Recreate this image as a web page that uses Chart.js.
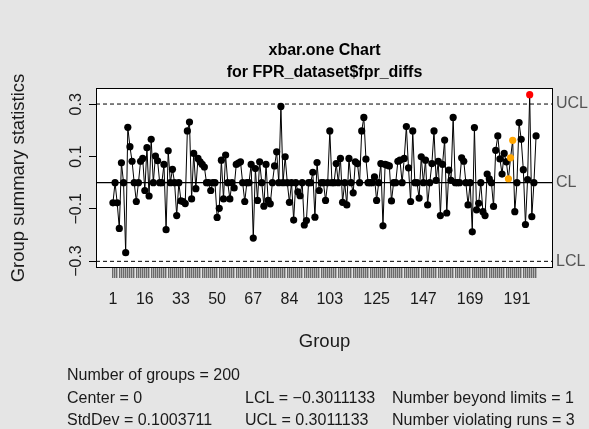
<!DOCTYPE html>
<html>
<head>
<meta charset="utf-8">
<script src="https://cdn.jsdelivr.net/npm/chart.js@4.4.1/dist/chart.umd.min.js"></script>
<style>
  html, body { margin: 0; padding: 0; background: #e5e5e5; }
  #wrap { width: 589px; height: 429px; }
</style>
</head>
<body>
<div id="wrap"><canvas id="qccChart" width="589" height="429"></canvas></div>
<script>
// group numbers and the individual fpr differences
const groups = Array.from({ length: 200 }, (_, i) => i + 1);
const fprDiffs = [
  -0.077, 0, -0.077, -0.175, 0.076, 0, -0.268, 0.212, 0.138, 0.082,
  0, -0.072, 0, 0.082, 0.093, -0.03, 0.134, -0.051, 0.166, 0,
  0.102, 0.084, 0, 0, 0.07, -0.18, 0.122, 0, 0.051, 0,
  -0.126, 0, -0.07, -0.072, -0.08, 0.198, 0.232, -0.062, 0.112, -0.023,
  0.093, 0.08, 0.07, 0.06, 0, 0, -0.03, 0, 0, -0.133,
  -0.098, 0.086, -0.062, 0.106, 0, -0.062, 0, -0.02, 0.07, 0.075,
  0.08, 0, -0.072, 0, 0, 0.07, -0.212, 0.054, -0.068, 0.08,
  0, -0.09, 0.07, -0.068, -0.081, 0, 0.064, 0.118, 0, 0.292,
  0, 0.099, 0, -0.075, 0, -0.143, 0, -0.035, -0.05, 0,
  -0.162, -0.145, 0, 0, 0.04, -0.132, 0.077, -0.03, 0, 0,
  -0.068, 0, 0.198, 0, 0, 0.073, 0, 0.093, -0.075, 0,
  -0.085, 0.093, 0, -0.039, 0.08, 0.073, 0, 0.198, 0.25, 0.09,
  0, 0, 0, 0.022, -0.068, 0, 0.073, -0.165, 0.07, 0.067,
  0.064, -0.07, 0, 0, 0.082, 0.086, 0, 0.093, 0.215, 0.057,
  -0.072, 0.198, 0, 0, -0.059, 0.099, 0, 0.086, -0.085, 0,
  0.073, 0.198, 0.009, 0.082, -0.126, 0.07, 0.163, -0.116, 0.048, 0.009,
  0.25, 0, 0, 0, 0.095, 0.082, 0, -0.085, 0, -0.188,
  0.211, -0.104, -0.079, 0, -0.111, -0.126, 0.033, 0.015, 0, -0.091,
  0.124, 0.179, 0.091, 0.033, 0.112, 0.08, 0.015, 0.095, 0.162, -0.111,
  0, 0.23, 0.166, 0.05, -0.16, 0.012, 0.337, -0.13, 0, 0.179
];

// control limits and flagged groups
const centerLine = 0;
const lowerLimit = -0.3011133;
const upperLimit = 0.3011133;
const runViolations = [187, 188, 189];
const beyondLimits = [197];

// axis labels
const xTickLabels = [1, 16, 33, 50, 67, 84, 103, 125, 147, 169, 191];
const yTickValues = [-0.3, -0.1, 0.1, 0.3];
const yTickText = ['\u22120.3', '\u22120.1', '0.1', '0.3'];

const statsLines = [
  ['Number of groups = 200', '', ''],
  ['Center = 0', 'LCL = \u22120.3011133', 'Number beyond limits = 1'],
  ['StdDev = 0.1003711', 'UCL = 0.3011133', 'Number violating runs = 3']
];

const FONT = '"Liberation Sans", Arial, Helvetica, sans-serif';

// R style 4% range extension
const allY = fprDiffs.concat([lowerLimit, upperLimit, centerLine]);
const yLo = Math.min(...allY), yHi = Math.max(...allY);
const yPad = (yHi - yLo) * 0.04;
const xPad = (groups.length - 1) * 0.04;
const xMin = 1 - xPad, xMax = groups.length + xPad;

const pointColors = groups.map(g => {
  if (beyondLimits.includes(g)) return 'red';
  if (runViolations.includes(g)) return 'orange';
  return 'black';
});

const limitLine = (y, dash, w) => ({
  data: [{ x: xMin, y: y }, { x: xMax, y: y }],
  borderColor: '#000',
  borderWidth: w,
  borderDash: dash,
  pointRadius: 0,
  fill: false
});

const decorations = {
  id: 'decorations',
  beforeDraw(chart) {
    const { ctx, chartArea: a } = chart;
    ctx.save();
    ctx.fillStyle = '#e5e5e5';
    ctx.fillRect(0, 0, chart.width, chart.height);
    ctx.fillStyle = '#ffffff';
    ctx.fillRect(a.left, a.top, a.right - a.left, a.bottom - a.top);
    ctx.restore();
  },
  afterDraw(chart) {
    const { ctx, chartArea: a } = chart;
    const ys = chart.scales.y;
    const midX = (a.left + a.right) / 2;
    ctx.save();

    // plot box
    ctx.strokeStyle = '#000';
    ctx.lineWidth = 1;
    ctx.strokeRect(a.left + 0.5, a.top + 0.5, a.right - a.left - 1, a.bottom - a.top - 1);

    // y tick labels, rotated like R
    ctx.fillStyle = '#1a1a1a';
    ctx.font = '16px ' + FONT;
    ctx.textAlign = 'center';
    ctx.textBaseline = 'middle';
    yTickValues.forEach((v, i) => {
      const py = ys.getPixelForValue(v);
      ctx.save();
      ctx.translate(77, py);
      ctx.rotate(-Math.PI / 2);
      ctx.fillText(yTickText[i], 0, 0);
      ctx.restore();
    });

    // y axis title
    ctx.save();
    ctx.font = '18.5px ' + FONT;
    ctx.translate(19, (a.top + a.bottom) / 2);
    ctx.rotate(-Math.PI / 2);
    ctx.fillText('Group summary statistics', 0, 0);
    ctx.restore();

    // limit names on the right
    ctx.fillStyle = '#555';
    ctx.font = '16px ' + FONT;
    ctx.textAlign = 'left';
    [['UCL', upperLimit], ['CL', centerLine], ['LCL', lowerLimit]].forEach(([t, v]) => {
      ctx.fillText(t, a.right + 3, ys.getPixelForValue(v));
    });

    // title
    ctx.fillStyle = '#000';
    ctx.font = 'bold 16px ' + FONT;
    ctx.textAlign = 'center';
    ctx.fillText('xbar.one Chart', midX, 51);
    ctx.fillText('for FPR_dataset$fpr_diffs', midX, 73);

    // x axis title
    ctx.fillStyle = '#1a1a1a';
    ctx.font = '18.5px ' + FONT;
    ctx.fillText('Group', midX, 342);

    // summary statistics
    ctx.font = '16px ' + FONT;
    ctx.textAlign = 'left';
    const cols = [67, 245, 392];
    statsLines.forEach((row, r) => {
      row.forEach((t, c) => {
        if (t) ctx.fillText(t, cols[c], 376 + r * 22.5);
      });
    });

    ctx.restore();
  }
};

const ctx = document.getElementById('qccChart').getContext('2d');
new Chart(ctx, {
  type: 'line',
  data: {
    datasets: [
      {
        data: groups.map((g, i) => ({ x: g, y: fprDiffs[i] })),
        borderColor: '#000',
        borderWidth: 1,
        pointRadius: 3.6,
        pointBorderWidth: 0,
        pointBackgroundColor: pointColors,
        fill: false,
        tension: 0
      },
      limitLine(upperLimit, [4, 3], 1),
      limitLine(lowerLimit, [4, 3], 1),
      limitLine(centerLine, [], 1.2)
    ]
  },
  options: {
    responsive: false,
    animation: false,
    clip: false,
    layout: { padding: { top: 88, right: 36, left: 0, bottom: 0 } },
    plugins: {
      legend: { display: false },
      tooltip: { enabled: false },
      title: { display: false }
    },
    scales: {
      x: {
        type: 'linear',
        min: xMin,
        max: xMax,
        afterBuildTicks: scale => {
          scale.ticks = groups.map(g => ({ value: g }));
        },
        afterFit: scale => { scale.height = 161; },
        ticks: {
          autoSkip: false,
          maxRotation: 0,
          minRotation: 0,
          padding: 12,
          color: '#1a1a1a',
          font: { family: FONT, size: 16 },
          callback: v => (xTickLabels.includes(v) ? String(v) : '')
        },
        grid: {
          drawOnChartArea: false,
          drawTicks: true,
          tickLength: 10,
          color: '#6a6a6a',
          lineWidth: 1.4
        },
        border: { display: false }
      },
      y: {
        type: 'linear',
        min: yLo - yPad,
        max: yHi + yPad,
        afterBuildTicks: scale => {
          scale.ticks = yTickValues.map(v => ({ value: v }));
        },
        afterFit: scale => { scale.width = 96; },
        ticks: { callback: () => '' },
        grid: {
          drawOnChartArea: false,
          drawTicks: true,
          tickLength: 7,
          color: '#000'
        },
        border: { display: false }
      }
    }
  },
  plugins: [decorations]
});
</script>
</body>
</html>
